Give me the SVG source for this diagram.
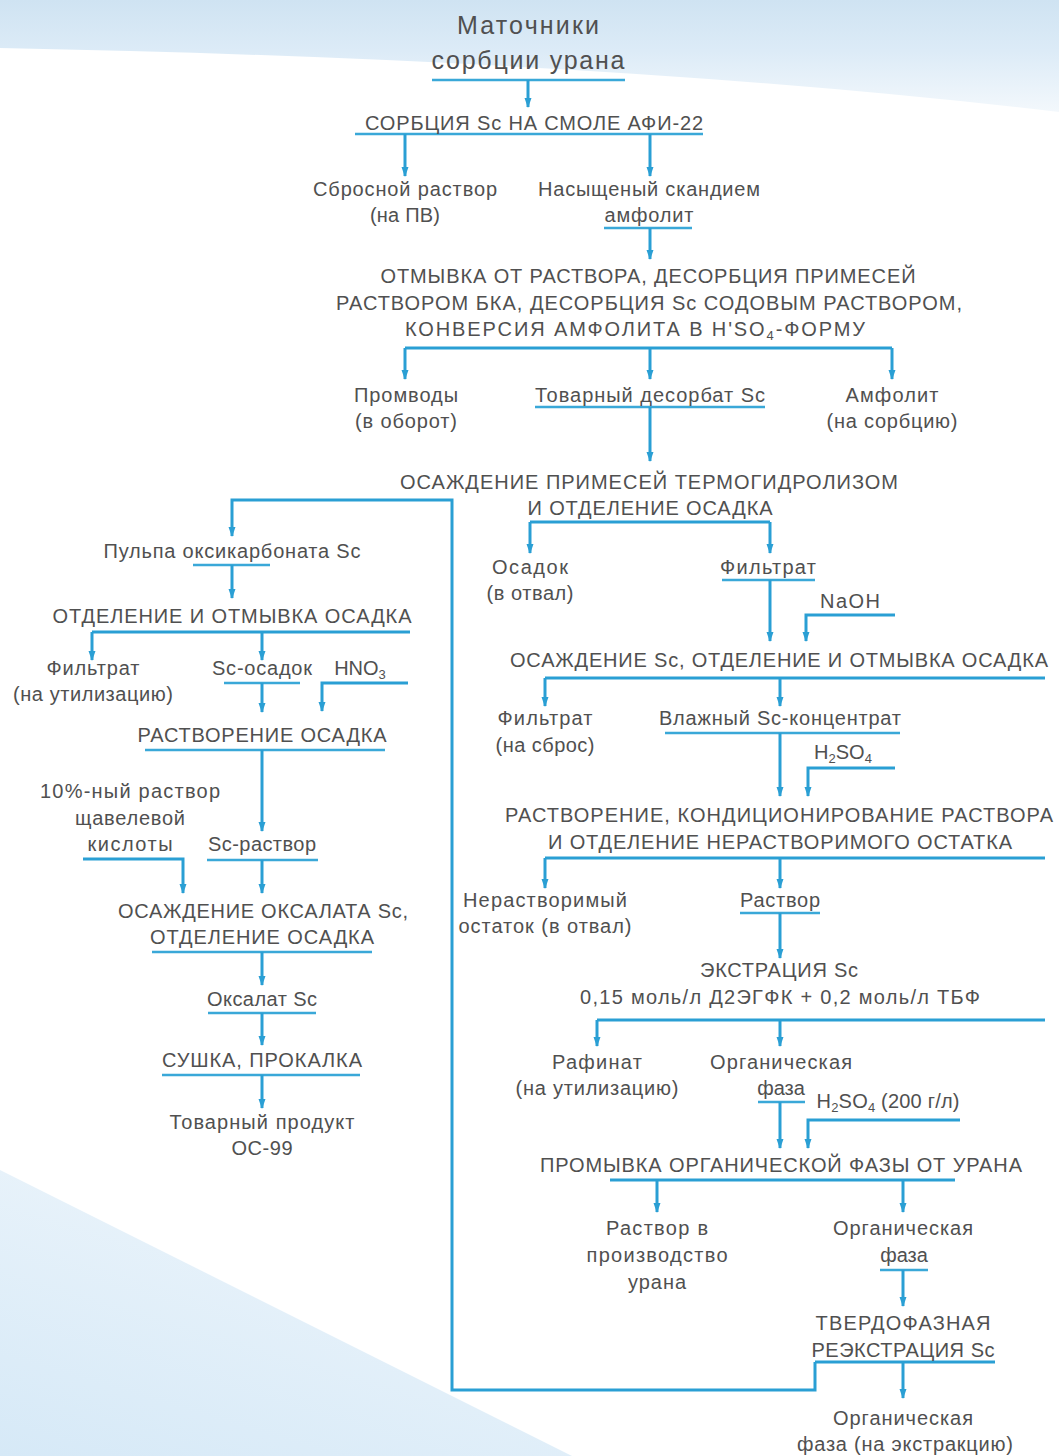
<svg xmlns="http://www.w3.org/2000/svg" width="1059" height="1456" viewBox="0 0 1059 1456">
<defs>
<linearGradient id="bgTop" x1="0" y1="0" x2="0" y2="112" gradientUnits="userSpaceOnUse">
<stop offset="0" stop-color="#cfe3f2"/>
<stop offset="0.45" stop-color="#dcebf7"/>
<stop offset="1" stop-color="#f3f8fc"/>
</linearGradient>
<linearGradient id="bgBot" x1="0" y1="1" x2="0.6" y2="0">
<stop offset="0" stop-color="#d6e9f7"/>
<stop offset="1" stop-color="#edf5fb"/>
</linearGradient>
<marker id="ah" viewBox="0 0 10 8" refX="9" refY="4" markerWidth="10" markerHeight="8" markerUnits="userSpaceOnUse" orient="auto">
<path d="M0,0.5 L10,4 L0,7.5 z" fill="#2a9fd4"/>
</marker>
</defs>
<style>
text{font-family:"Liberation Sans","Arial",sans-serif;font-size:20px;fill:#505050;text-anchor:middle;}
.big{font-size:25px;}
.c{fill:none;stroke:#2a9fd4;stroke-width:3;}
.a{fill:none;stroke:#2a9fd4;stroke-width:3;marker-end:url(#ah);}
.u{fill:none;stroke:#3aa8d8;stroke-width:2.5;}
</style>
<rect width="1059" height="1456" fill="#ffffff"/>
<path d="M0,0 H1059 V112 Q620,60 0,48 Z" fill="url(#bgTop)"/>
<polygon points="0,1170 572,1456 0,1456" fill="url(#bgBot)"/>

<g id="connectors">
<line class="u" x1="432" y1="80" x2="625" y2="80"/>
<line class="a" x1="528" y1="80" x2="528" y2="107"/>
<line class="u" x1="355" y1="134" x2="703" y2="134"/>
<line class="a" x1="405" y1="134" x2="405" y2="176"/>
<line class="a" x1="650" y1="134" x2="650" y2="176"/>
<line class="u" x1="604" y1="228" x2="692" y2="228"/>
<line class="a" x1="650" y1="228" x2="650" y2="259"/>
<line class="c" x1="405" y1="348" x2="892" y2="348"/>
<line class="a" x1="405" y1="348" x2="405" y2="379"/>
<line class="a" x1="650" y1="348" x2="650" y2="379"/>
<line class="a" x1="892" y1="348" x2="892" y2="379"/>
<line class="u" x1="535" y1="407" x2="765" y2="407"/>
<line class="a" x1="650" y1="407" x2="650" y2="461"/>
<path class="a" d="M815,1362 V1390 H452 V500 H232 V536"/>
<line class="u" x1="193" y1="565" x2="270" y2="565"/>
<line class="a" x1="232" y1="565" x2="232" y2="598"/>
<line class="c" x1="92" y1="632" x2="410" y2="632"/>
<line class="a" x1="92" y1="632" x2="92" y2="660"/>
<line class="a" x1="262" y1="632" x2="262" y2="660"/>
<line class="u" x1="224" y1="683" x2="300" y2="683"/>
<path class="a" d="M408,683 H322 V711"/>
<line class="a" x1="262" y1="683" x2="262" y2="712"/>
<line class="u" x1="145" y1="750" x2="385" y2="750"/>
<line class="a" x1="262" y1="750" x2="262" y2="831"/>
<path class="a" d="M83,859 H183 V893"/>
<line class="u" x1="207" y1="860" x2="318" y2="860"/>
<line class="a" x1="262" y1="860" x2="262" y2="893"/>
<line class="u" x1="152" y1="952" x2="372" y2="952"/>
<line class="a" x1="262" y1="952" x2="262" y2="985"/>
<line class="u" x1="208" y1="1013" x2="316" y2="1013"/>
<line class="a" x1="262" y1="1013" x2="262" y2="1045"/>
<line class="u" x1="162" y1="1075" x2="360" y2="1075"/>
<line class="a" x1="262" y1="1075" x2="262" y2="1108"/>
<line class="c" x1="530" y1="522" x2="770" y2="522"/>
<line class="a" x1="530" y1="522" x2="530" y2="553"/>
<line class="a" x1="770" y1="522" x2="770" y2="553"/>
<line class="u" x1="722" y1="580" x2="815" y2="580"/>
<line class="a" x1="770" y1="580" x2="770" y2="641"/>
<path class="a" d="M895,615 H806 V641"/>
<line class="c" x1="545" y1="678" x2="1045" y2="678"/>
<line class="a" x1="545" y1="678" x2="545" y2="706"/>
<line class="a" x1="780" y1="678" x2="780" y2="706"/>
<line class="u" x1="665" y1="733" x2="900" y2="733"/>
<line class="a" x1="780" y1="733" x2="780" y2="796"/>
<path class="a" d="M895,768 H808 V796"/>
<line class="c" x1="545" y1="858" x2="1045" y2="858"/>
<line class="a" x1="545" y1="858" x2="545" y2="888"/>
<line class="a" x1="780" y1="858" x2="780" y2="888"/>
<line class="u" x1="740" y1="913" x2="820" y2="913"/>
<line class="a" x1="780" y1="913" x2="780" y2="958"/>
<line class="c" x1="597" y1="1020" x2="1045" y2="1020"/>
<line class="a" x1="597" y1="1020" x2="597" y2="1046"/>
<line class="a" x1="780" y1="1020" x2="780" y2="1046"/>
<line class="u" x1="758" y1="1102" x2="805" y2="1102"/>
<line class="a" x1="780" y1="1102" x2="780" y2="1148"/>
<path class="a" d="M960,1120 H808 V1148"/>
<line class="c" x1="610" y1="1180" x2="955" y2="1180"/>
<line class="a" x1="657" y1="1180" x2="657" y2="1212"/>
<line class="a" x1="903" y1="1180" x2="903" y2="1212"/>
<line class="u" x1="880" y1="1270" x2="928" y2="1270"/>
<line class="a" x1="903" y1="1270" x2="903" y2="1306"/>
<line class="c" x1="815" y1="1362" x2="995" y2="1362"/>
<line class="a" x1="903" y1="1362" x2="903" y2="1398"/>
</g>

<g id="n-matochniki"><text class="big" x="528" y="34" textLength="142">Маточники</text><text class="big" x="528" y="69" textLength="193">сорбции урана</text></g>
<g id="n-sorbciya"><text x="534" y="130" textLength="338">СОРБЦИЯ Sc НА СМОЛЕ АФИ-22</text></g>
<g id="n-sbrosnoy"><text x="405" y="196" textLength="184">Сбросной раствор</text><text x="405" y="222" textLength="70">(на ПВ)</text></g>
<g id="n-nasyshenny"><text x="649" y="196" textLength="222">Насыщеный скандием</text><text x="649" y="222" textLength="89">амфолит</text></g>
<g id="n-otmyvka"><text x="648" y="283" textLength="535">ОТМЫВКА ОТ РАСТВОРА, ДЕСОРБЦИЯ ПРИМЕСЕЙ</text><text x="649" y="310" textLength="626">РАСТВОРОМ БКА, ДЕСОРБЦИЯ Sc СОДОВЫМ РАСТВОРОМ,</text><text x="635" y="336" textLength="460">КОНВЕРСИЯ АМФОЛИТА В H'SO<tspan font-size="13" dy="4">4</tspan><tspan dy="-4">-ФОРМУ</tspan></text></g>
<g id="n-promvody"><text x="406" y="402" textLength="104">Промводы</text><text x="406" y="428" textLength="102">(в оборот)</text></g>
<g id="n-desorbat"><text x="650" y="402" textLength="230">Товарный десорбат Sc</text></g>
<g id="n-amfolit"><text x="892" y="402" textLength="93">Амфолит</text><text x="892" y="428" textLength="131">(на сорбцию)</text></g>
<g id="n-osazhdenie-primesey"><text x="649" y="489" textLength="498">ОСАЖДЕНИЕ ПРИМЕСЕЙ ТЕРМОГИДРОЛИЗОМ</text><text x="650" y="515" textLength="245">И ОТДЕЛЕНИЕ ОСАДКА</text></g>
<g id="n-pulpa"><text x="232" y="558" textLength="257">Пульпа оксикарбоната Sc</text></g>
<g id="n-otdelenie1"><text x="232" y="623" textLength="359">ОТДЕЛЕНИЕ И ОТМЫВКА ОСАДКА</text></g>
<g id="n-filtrat1"><text x="93" y="675" textLength="93">Фильтрат</text><text x="93" y="701" textLength="160">(на утилизацию)</text></g>
<g id="n-sc-osadok"><text x="262" y="675" textLength="100">Sc-осадок</text></g>
<g id="n-hno3"><text x="360" y="675">HNO<tspan font-size="13" dy="4">3</tspan></text></g>
<g id="n-rastvorenie1"><text x="262" y="742" textLength="249">РАСТВОРЕНИЕ ОСАДКА</text></g>
<g id="n-kislota"><text x="130" y="798" textLength="180">10%-ный раствор</text><text x="130" y="825" textLength="110">щавелевой</text><text x="130" y="851" textLength="85">кислоты</text></g>
<g id="n-sc-rastvor"><text x="262" y="851" textLength="108">Sc-раствор</text></g>
<g id="n-oksalat-osazhd"><text x="263" y="918" textLength="290">ОСАЖДЕНИЕ ОКСАЛАТА Sc,</text><text x="262" y="944" textLength="224">ОТДЕЛЕНИЕ ОСАДКА</text></g>
<g id="n-oksalat"><text x="262" y="1006" textLength="110">Оксалат Sc</text></g>
<g id="n-sushka"><text x="262" y="1067" textLength="200">СУШКА, ПРОКАЛКА</text></g>
<g id="n-produkt"><text x="262" y="1129" textLength="185">Товарный продукт</text><text x="262" y="1155" textLength="61">ОС-99</text></g>
<g id="n-osadok"><text x="530" y="574" textLength="76">Осадок</text><text x="530" y="600" textLength="87">(в отвал)</text></g>
<g id="n-filtrat2"><text x="768" y="574" textLength="96">Фильтрат</text></g>
<g id="n-naoh"><text x="850" y="608" textLength="60">NaOH</text></g>
<g id="n-osazhdenie-sc"><text x="779" y="667" textLength="538">ОСАЖДЕНИЕ Sc, ОТДЕЛЕНИЕ И ОТМЫВКА ОСАДКА</text></g>
<g id="n-filtrat3"><text x="545" y="725" textLength="95">Фильтрат</text><text x="545" y="752" textLength="99">(на сброс)</text></g>
<g id="n-vlazhny"><text x="780" y="725" textLength="242">Влажный Sc-концентрат</text></g>
<g id="n-h2so4"><text x="843" y="759">H<tspan font-size="13" dy="4">2</tspan><tspan dy="-4">SO</tspan><tspan font-size="13" dy="4">4</tspan></text></g>
<g id="n-rastvorenie2"><text x="779" y="822" textLength="548">РАСТВОРЕНИЕ, КОНДИЦИОНИРОВАНИЕ РАСТВОРА</text><text x="780" y="849" textLength="464">И ОТДЕЛЕНИЕ НЕРАСТВОРИМОГО ОСТАТКА</text></g>
<g id="n-nerastvorimy"><text x="545" y="907" textLength="164">Нерастворимый</text><text x="545" y="933" textLength="173">остаток (в отвал)</text></g>
<g id="n-rastvor"><text x="780" y="907" textLength="80">Раствор</text></g>
<g id="n-ekstraktsiya"><text x="779" y="977" textLength="158">ЭКСТРАЦИЯ Sc</text><text x="780" y="1004" textLength="400">0,15 моль/л Д2ЭГФК + 0,2 моль/л ТБФ</text></g>
<g id="n-rafinat"><text x="597" y="1069" textLength="90">Рафинат</text><text x="597" y="1095" textLength="163">(на утилизацию)</text></g>
<g id="n-org1"><text x="781" y="1069" textLength="142">Органическая</text><text x="781" y="1095">фаза</text></g>
<g id="n-h2so4-200"><text x="888" y="1108" textLength="143">H<tspan font-size="13" dy="4">2</tspan><tspan dy="-4">SO</tspan><tspan font-size="13" dy="4">4</tspan><tspan dy="-4"> (200 г/л)</tspan></text></g>
<g id="n-promyvka"><text x="781" y="1172" textLength="482">ПРОМЫВКА ОРГАНИЧЕСКОЙ ФАЗЫ ОТ УРАНА</text></g>
<g id="n-rastvor-uran"><text x="657" y="1235" textLength="102">Раствор в</text><text x="657" y="1262" textLength="141">производство</text><text x="657" y="1289" textLength="58">урана</text></g>
<g id="n-org2"><text x="903" y="1235" textLength="140">Органическая</text><text x="904" y="1262">фаза</text></g>
<g id="n-reekstraktsiya"><text x="903" y="1330" textLength="175">ТВЕРДОФАЗНАЯ</text><text x="903" y="1357" textLength="183">РЕЭКСТРАЦИЯ Sc</text></g>
<g id="n-org3"><text x="903" y="1425" textLength="140">Органическая</text><text x="905" y="1451" textLength="216">фаза (на экстракцию)</text></g>
</svg>
